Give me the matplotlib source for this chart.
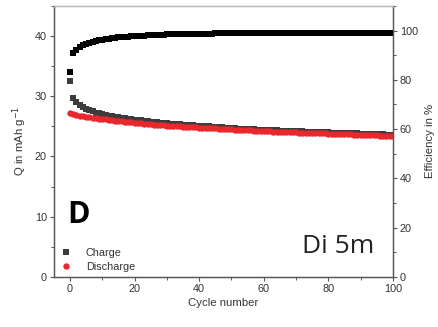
import matplotlib.pyplot as plt
from matplotlib.ticker import MultipleLocator

plt.rcParams['font.family'] = ['Liberation Sans', 'DejaVu Sans']

# Data
cycles = list(range(0, 101))

charge = [
    32.5, 29.7, 29.0, 28.6, 28.2, 27.9, 27.7, 27.5, 27.3, 27.15,
    27.0, 26.9, 26.8, 26.7, 26.6, 26.5, 26.42, 26.34, 26.26, 26.18,
    26.1, 26.04, 25.98, 25.92, 25.86, 25.8, 25.74, 25.68, 25.62, 25.56,
    25.5, 25.46, 25.42, 25.38, 25.34, 25.3, 25.26, 25.22, 25.18, 25.14,
    25.1, 25.06, 25.02, 24.98, 24.94, 24.9, 24.86, 24.82, 24.78, 24.74,
    24.7, 24.67, 24.64, 24.61, 24.58, 24.55, 24.52, 24.49, 24.46, 24.43,
    24.4, 24.38, 24.36, 24.34, 24.32, 24.3, 24.28, 24.26, 24.24, 24.22,
    24.2, 24.18, 24.16, 24.14, 24.12, 24.1, 24.08, 24.06, 24.04, 24.02,
    24.0, 23.98, 23.96, 23.94, 23.92, 23.9, 23.88, 23.86, 23.84, 23.82,
    23.8, 23.78, 23.76, 23.74, 23.72, 23.7, 23.68, 23.66, 23.64, 23.62,
    23.6,
]

discharge = [
    27.2, 27.0, 26.9, 26.8, 26.7, 26.6, 26.5, 26.4, 26.35, 26.3,
    26.2, 26.15, 26.1, 26.0, 25.95, 25.9, 25.85, 25.8, 25.7, 25.65,
    25.6, 25.55, 25.5, 25.45, 25.4, 25.35, 25.3, 25.25, 25.2, 25.15,
    25.1, 25.07, 25.04, 25.01, 24.98, 24.95, 24.92, 24.89, 24.86, 24.83,
    24.8, 24.77, 24.74, 24.71, 24.68, 24.65, 24.62, 24.59, 24.56, 24.53,
    24.5, 24.47, 24.44, 24.41, 24.38, 24.35, 24.32, 24.29, 24.26, 24.23,
    24.2, 24.18, 24.16, 24.14, 24.12, 24.1, 24.08, 24.06, 24.04, 24.02,
    24.0, 23.98, 23.96, 23.94, 23.92, 23.9, 23.88, 23.86, 23.84, 23.82,
    23.8, 23.78, 23.76, 23.74, 23.72, 23.7, 23.68, 23.66, 23.64, 23.62,
    23.6, 23.58, 23.56, 23.54, 23.52, 23.5, 23.48, 23.46, 23.44, 23.42,
    23.4,
]

efficiency = [
    83.0, 90.7, 92.3, 93.3, 94.0, 94.6, 95.1, 95.5, 95.8, 96.1,
    96.3, 96.5, 96.7, 96.9, 97.05, 97.2, 97.32, 97.44, 97.56, 97.68,
    97.8, 97.86, 97.92, 97.98, 98.04, 98.1, 98.16, 98.22, 98.28, 98.34,
    98.4, 98.43, 98.46, 98.49, 98.52, 98.55, 98.58, 98.61, 98.64, 98.67,
    98.7, 98.72, 98.74, 98.76, 98.78, 98.8, 98.82, 98.84, 98.86, 98.88,
    98.9, 98.91, 98.92, 98.93, 98.94, 98.95, 98.96, 98.97, 98.98, 98.99,
    99.0, 99.0, 99.01, 99.01, 99.02, 99.02, 99.03, 99.03, 99.04, 99.04,
    99.05, 99.05, 99.06, 99.06, 99.07, 99.07, 99.08, 99.08, 99.09, 99.09,
    99.1, 99.1, 99.11, 99.11, 99.12, 99.12, 99.13, 99.13, 99.14, 99.14,
    99.15, 99.15, 99.16, 99.16, 99.17, 99.17, 99.18, 99.18, 99.19, 99.19,
    99.2,
]

fig = plt.figure(figsize=(4.38, 3.27), dpi=100)
ax = fig.add_axes([0.123, 0.153, 0.774, 0.829])
ax2 = ax.twinx()

# discharge drawn on top of charge, as in the original
ax.plot(cycles, charge, 's', color='#3c3c3c', ms=4.0, mew=0, label='Charge', zorder=2)
ax.plot(cycles, discharge, 'o', color='#e8282c', ms=4.6, mew=0, label='Discharge', zorder=3)
ax2.plot(cycles, efficiency, 's', color='black', ms=4.0, mew=0)

ax.set_xlim(-5, 100)
ax.set_ylim(0, 45)
ax2.set_ylim(0, 110)

tick_col = '#333333'
ax.xaxis.set_major_locator(MultipleLocator(20))
ax.xaxis.set_minor_locator(MultipleLocator(10))
ax.yaxis.set_major_locator(MultipleLocator(10))
ax.yaxis.set_minor_locator(MultipleLocator(5))
ax2.yaxis.set_major_locator(MultipleLocator(20))
ax2.yaxis.set_minor_locator(MultipleLocator(10))

for a in (ax, ax2):
    a.tick_params(which='major', direction='out', length=3, width=0.8,
                  labelsize=7.8, colors='#555555', labelcolor=tick_col, pad=2)
    a.tick_params(which='minor', direction='out', length=2, width=0.7, colors='#555555')
    for s in a.spines.values():
        s.set_color('#555555')
        s.set_linewidth(0.9)
    a.spines['top'].set_color('#bbbbbb')

ax.set_xlabel('Cycle number', fontsize=8.2, color=tick_col, labelpad=3)
ax.set_ylabel('Q in mAh g$^{-1}$', fontsize=8.2, color=tick_col, labelpad=4)
ax2.set_ylabel('Efficiency in %', fontsize=8.2, color=tick_col, labelpad=5)

ax.legend(loc='lower left', frameon=False, fontsize=7.8, handletextpad=1.3,
          handlelength=1.0, labelspacing=0.35, borderaxespad=0.1,
          bbox_to_anchor=(0.005, 0.0), labelcolor=tick_col, markerscale=1.0)

ax.text(0.04, 0.20, 'D', transform=ax.transAxes, fontsize=22, fontweight='bold',
        family='Open Sans', color='black')
ax.text(0.945, 0.09, 'Di 5m', transform=ax.transAxes, fontsize=19,
        family='Open Sans', color='#222222', ha='right')

fig.savefig('out.png', dpi=100)
